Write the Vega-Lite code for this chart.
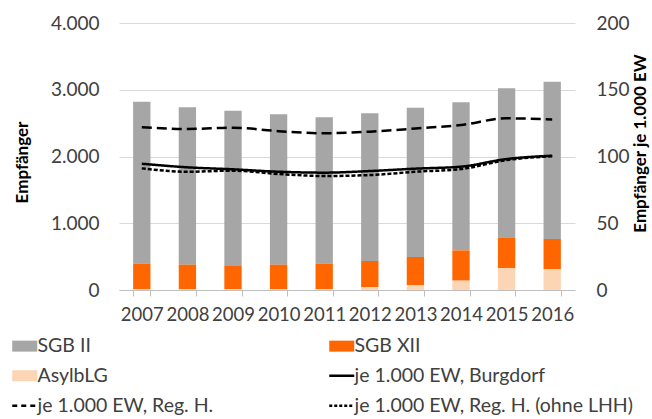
{
  "$schema": "https://vega.github.io/schema/vega-lite/v6.json",
  "width": 456,
  "height": 267,
  "autosize": "none",
  "padding": {"left": 119, "top": 23, "right": 77, "bottom": 129},
  "background": "white",
  "config": {
    "view": {"stroke": null},
    "font": "Lato",
    "axis": {"labelFont": "Lato", "titleFont": "Lato"}
  },
  "datasets": {
    "bars": [
      {"year": "2007", "series": "SGB II", "value": 2427},
      {"year": "2007", "series": "SGB XII", "value": 379},
      {"year": "2007", "series": "AsylbLG", "value": 15},
      {"year": "2008", "series": "SGB II", "value": 2358},
      {"year": "2008", "series": "SGB XII", "value": 364},
      {"year": "2008", "series": "AsylbLG", "value": 15},
      {"year": "2009", "series": "SGB II", "value": 2316},
      {"year": "2009", "series": "SGB XII", "value": 355},
      {"year": "2009", "series": "AsylbLG", "value": 15},
      {"year": "2010", "series": "SGB II", "value": 2253},
      {"year": "2010", "series": "SGB XII", "value": 364},
      {"year": "2010", "series": "AsylbLG", "value": 15},
      {"year": "2011", "series": "SGB II", "value": 2193},
      {"year": "2011", "series": "SGB XII", "value": 379},
      {"year": "2011", "series": "AsylbLG", "value": 15},
      {"year": "2012", "series": "SGB II", "value": 2213},
      {"year": "2012", "series": "SGB XII", "value": 389},
      {"year": "2012", "series": "AsylbLG", "value": 45},
      {"year": "2013", "series": "SGB II", "value": 2237},
      {"year": "2013", "series": "SGB XII", "value": 419},
      {"year": "2013", "series": "AsylbLG", "value": 75},
      {"year": "2014", "series": "SGB II", "value": 2218},
      {"year": "2014", "series": "SGB XII", "value": 454},
      {"year": "2014", "series": "AsylbLG", "value": 140},
      {"year": "2015", "series": "SGB II", "value": 2232},
      {"year": "2015", "series": "SGB XII", "value": 459},
      {"year": "2015", "series": "AsylbLG", "value": 330},
      {"year": "2016", "series": "SGB II", "value": 2357},
      {"year": "2016", "series": "SGB XII", "value": 454},
      {"year": "2016", "series": "AsylbLG", "value": 310}
    ],
    "lines": [
      {"year": "2007", "series": "je 1.000 EW, Burgdorf", "value": 94.6},
      {"year": "2008", "series": "je 1.000 EW, Burgdorf", "value": 91.9},
      {"year": "2009", "series": "je 1.000 EW, Burgdorf", "value": 90.4},
      {"year": "2010", "series": "je 1.000 EW, Burgdorf", "value": 88.6},
      {"year": "2011", "series": "je 1.000 EW, Burgdorf", "value": 87.9},
      {"year": "2012", "series": "je 1.000 EW, Burgdorf", "value": 89.1},
      {"year": "2013", "series": "je 1.000 EW, Burgdorf", "value": 90.9},
      {"year": "2014", "series": "je 1.000 EW, Burgdorf", "value": 92.4},
      {"year": "2015", "series": "je 1.000 EW, Burgdorf", "value": 98.1},
      {"year": "2016", "series": "je 1.000 EW, Burgdorf", "value": 100.6},
      {"year": "2007", "series": "je 1.000 EW, Reg. H.", "value": 122},
      {"year": "2008", "series": "je 1.000 EW, Reg. H.", "value": 120.6},
      {"year": "2009", "series": "je 1.000 EW, Reg. H.", "value": 121.6},
      {"year": "2010", "series": "je 1.000 EW, Reg. H.", "value": 119},
      {"year": "2011", "series": "je 1.000 EW, Reg. H.", "value": 117.4},
      {"year": "2012", "series": "je 1.000 EW, Reg. H.", "value": 118.6},
      {"year": "2013", "series": "je 1.000 EW, Reg. H.", "value": 121},
      {"year": "2014", "series": "je 1.000 EW, Reg. H.", "value": 123.6},
      {"year": "2015", "series": "je 1.000 EW, Reg. H.", "value": 128.6},
      {"year": "2016", "series": "je 1.000 EW, Reg. H.", "value": 127.8},
      {"year": "2007", "series": "je 1.000 EW, Reg. H. (ohne LHH)", "value": 91.1},
      {"year": "2008", "series": "je 1.000 EW, Reg. H. (ohne LHH)", "value": 88.6},
      {"year": "2009", "series": "je 1.000 EW, Reg. H. (ohne LHH)", "value": 89.4},
      {"year": "2010", "series": "je 1.000 EW, Reg. H. (ohne LHH)", "value": 86.9},
      {"year": "2011", "series": "je 1.000 EW, Reg. H. (ohne LHH)", "value": 85.4},
      {"year": "2012", "series": "je 1.000 EW, Reg. H. (ohne LHH)", "value": 86.1},
      {"year": "2013", "series": "je 1.000 EW, Reg. H. (ohne LHH)", "value": 88.6},
      {"year": "2014", "series": "je 1.000 EW, Reg. H. (ohne LHH)", "value": 90.6},
      {"year": "2015", "series": "je 1.000 EW, Reg. H. (ohne LHH)", "value": 97.3},
      {"year": "2016", "series": "je 1.000 EW, Reg. H. (ohne LHH)", "value": 100.2}
    ]
  },
  "layer": [
    {
      "data": {"name": "bars"},
      "transform": [
        {"calculate": "indexof(['AsylbLG','SGB XII','SGB II'], datum.series)", "as": "stackorder"}
      ],
      "mark": {"type": "bar"},
      "encoding": {
        "x": {
          "field": "year",
          "type": "ordinal",
          "scale": {"paddingInner": 0.62, "paddingOuter": 0.31},
          "axis": {
            "title": null,
            "labelAngle": 0,
            "labelFontSize": 18.5,
            "labelColor": "#404040",
            "labelPadding": 9,
            "labelOverlap": false,
            "domainColor": "#bfbfbf",
            "tickColor": "#bfbfbf",
            "tickSize": 6,
            "tickBand": "extent",
            "grid": false
          }
        },
        "y": {
          "field": "value",
          "type": "quantitative",
          "stack": "zero",
          "scale": {"domain": [0, 4000]},
          "axis": {
            "title": "Empfänger",
            "values": [0, 1000, 2000, 3000, 4000],
            "labelExpr": "replace(datum.label, ',', '.')",
            "grid": true,
            "gridColor": "#d9d9d9",
            "domain": false,
            "ticks": false,
            "labelPadding": 20,
            "labelFontSize": 19,
            "labelColor": "#404040",
            "titleFontSize": 17,
            "titleFontWeight": "bold",
            "titleColor": "#000000",
            "titleX": -97,
            "titleY": 139,
            "titleAngle": 270,
            "titleAlign": "center",
            "titleBaseline": "middle"
          }
        },
        "color": {
          "field": "series",
          "type": "nominal",
          "scale": {
            "domain": ["SGB II", "SGB XII", "AsylbLG", "je 1.000 EW, Burgdorf", "je 1.000 EW, Reg. H.", "je 1.000 EW, Reg. H. (ohne LHH)"],
            "range": ["#a6a6a6", "#ff6600", "#fcd5b4", "#000000", "#000000", "#000000"]
          },
          "legend": {
            "orient": "none",
            "direction": "horizontal",
            "legendX": -104,
            "legendY": 313,
            "columns": 2,
            "columnPadding": 110,
            "rowPadding": 9,
            "title": null,
            "labelFont": "Lato",
            "labelFontSize": 19.5,
            "labelColor": "#404040",
            "labelOffset": 3,
            "labelLimit": 400,
            "symbolSize": 625,
            "encode": {
              "symbols": {
                "update": {
                  "shape": {"signal": "indexof(['SGB II','SGB XII','AsylbLG'], datum.value) >= 0 ? 'M-1,-0.44H1V0.44H-1Z' : 'stroke'"},
                  "fill": {"signal": "indexof(['SGB II','SGB XII','AsylbLG'], datum.value) >= 0 ? scale('color', datum.value) : 'transparent'"},
                  "stroke": {"signal": "scale('color', datum.value)"},
                  "strokeWidth": {"signal": "indexof(['SGB II','SGB XII','AsylbLG'], datum.value) >= 0 ? 0 : 2.5"},
                  "strokeDash": {"signal": "datum.value === 'je 1.000 EW, Reg. H.' ? [5,4] : datum.value === 'je 1.000 EW, Reg. H. (ohne LHH)' ? [3,2] : [1,0]"},
                  "opacity": {"value": 1}
                }
              }
            }
          }
        },
        "order": {"field": "stackorder", "type": "quantitative"}
      }
    },
    {
      "data": {"name": "lines"},
      "mark": {"type": "line", "interpolate": "monotone", "strokeWidth": 2.5},
      "encoding": {
        "x": {"field": "year", "type": "ordinal"},
        "y": {
          "field": "value",
          "type": "quantitative",
          "scale": {"domain": [0, 200]},
          "axis": {
            "orient": "right",
            "title": "Empfänger je 1.000 EW",
            "values": [0, 50, 100, 150, 200],
            "grid": false,
            "domain": false,
            "ticks": false,
            "labelPadding": 21,
            "labelFontSize": 19,
            "labelColor": "#404040",
            "titleFontSize": 17,
            "titleFontWeight": "bold",
            "titleColor": "#000000",
            "titleX": 65,
            "titleY": 120,
            "titleAngle": 270,
            "titleAlign": "center",
            "titleBaseline": "middle"
          }
        },
        "color": {"field": "series", "type": "nominal"},
        "strokeDash": {
          "field": "series",
          "type": "nominal",
          "scale": {
            "domain": ["je 1.000 EW, Burgdorf", "je 1.000 EW, Reg. H.", "je 1.000 EW, Reg. H. (ohne LHH)"],
            "range": [[1, 0], [10, 5], [4, 2]]
          },
          "legend": null
        }
      }
    }
  ],
  "resolve": {"scale": {"y": "independent"}}
}
